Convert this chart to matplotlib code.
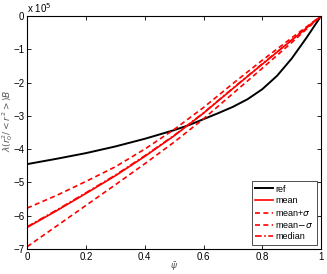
import matplotlib
matplotlib.use("Agg")
from matplotlib import pyplot as plt

# values in units of 1e5
psi_ref = [0.0, 0.1, 0.2, 0.3, 0.4, 0.5, 0.55, 0.6, 0.65, 0.7, 0.75, 0.8, 0.85, 0.9, 0.95, 1.0]
ref = [-4.45, -4.29, -4.12, -3.92, -3.69, -3.43, -3.28, -3.10, -2.92, -2.73, -2.50, -2.20,
       -1.80, -1.28, -0.66, 0.0]

psi = [0.0, 0.1, 0.2, 0.3, 0.4, 0.5, 0.6, 0.7, 0.8, 0.9, 1.0]
mean = [-6.35, -5.85, -5.33, -4.80, -4.22, -3.60, -2.92, -2.18, -1.45, -0.73, 0.0]
mean_plus = [-5.77, -5.39, -4.97, -4.53, -4.00, -3.41, -2.75, -2.03, -1.33, -0.66, 0.0]
mean_minus = [-6.93, -6.31, -5.69, -5.07, -4.44, -3.79, -3.09, -2.33, -1.57, -0.80, 0.0]
median = [-6.33, -5.83, -5.31, -4.78, -4.20, -3.59, -2.91, -2.17, -1.44, -0.72, 0.0]

xticks = [0, 0.2, 0.4, 0.6, 0.8, 1]
xticklabels = ["0", "0.2", "0.4", "0.6", "0.8", "1"]
yticks = [-7, -6, -5, -4, -3, -2, -1, 0]


def main() -> None:
    plt.rcParams["font.family"] = ["Liberation Sans", "DejaVu Sans"]
    plt.rcParams["font.size"] = 7
    plt.rcParams["mathtext.fontset"] = "dejavusans"

    fig = plt.figure(figsize=(3.27, 2.74), dpi=100)
    ax = fig.add_axes([0.083, 0.091, 0.899, 0.851])

    ax.plot(psi_ref, ref, color="black", lw=1.4, label="ref")
    ax.plot(psi, mean, color="red", lw=1.2, label="mean")
    ax.plot(psi, mean_plus, color="red", lw=1.2, ls=(0, (3, 2)), label=r"mean+$\sigma$")
    ax.plot(psi, mean_minus, color="red", lw=1.2, ls=(0, (3, 2)), label=r"mean$-\sigma$")
    ax.plot(psi, median, color="red", lw=1.2, ls=(0, (4, 1.5, 1, 1.5)), label="median")

    ax.set_xlim(0, 1)
    ax.set_ylim(-7, 0)
    ax.set_xticks(xticks)
    ax.set_xticklabels(xticklabels)
    ax.set_yticks(yticks)
    ax.tick_params(direction="in", length=3, width=0.6, top=True, right=True, pad=2)
    for sp in ax.spines.values():
        sp.set_linewidth(0.8)

    ax.set_xlabel(r"$\bar{\psi}$", color="#555555", fontsize=6.5, va="center")
    ax.xaxis.set_label_coords(0.5, -0.075)
    ax.set_ylabel(r"$\lambda(r_0^2/<r^2>)B$", color="#555555", fontsize=6.5, va="center")
    ax.yaxis.set_label_coords(-0.068, 0.55)
    ax.text(0.0, 1.005, r"x 10$^5$", transform=ax.transAxes, ha="left", va="bottom", fontsize=7)

    leg = ax.legend(loc="lower right", fontsize=6.5, frameon=True, fancybox=False,
                    edgecolor="black", handlelength=2.0, handletextpad=0.3,
                    borderpad=0.35, labelspacing=0.3, borderaxespad=0.5)
    leg.get_frame().set_linewidth(0.6)

    fig.savefig("out.png", dpi=100)


if __name__ == "__main__":
    main()
